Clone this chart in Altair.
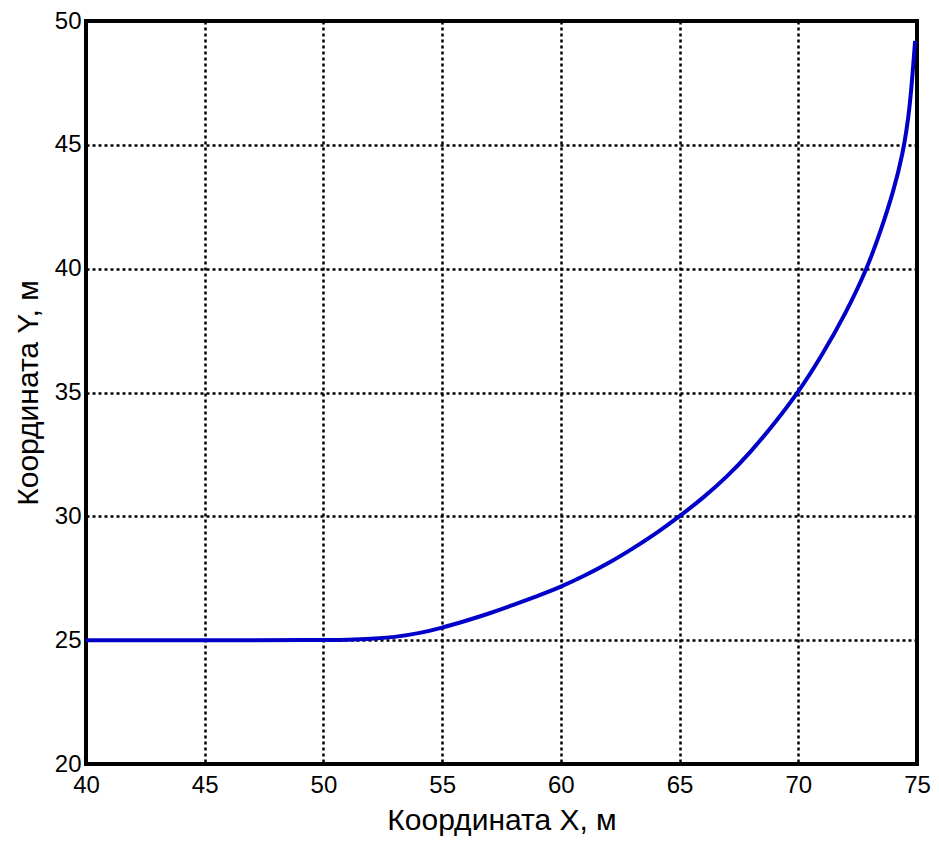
import altair as alt
import pandas as pd

x_vals = [40, 45, 50, 51, 52, 53, 54, 55, 56, 57, 58, 59, 60, 61, 62, 63, 64, 65,
          66, 67, 68, 69, 70, 71, 72, 72.9, 73.5, 74.0, 74.4, 74.7, 74.92]
y_vals = [25, 25, 25, 25.02, 25.05, 25.12, 25.27, 25.5, 25.78, 26.08, 26.42, 26.78, 27.15,
          27.6, 28.1, 28.68, 29.3, 30.0, 30.75, 31.6, 32.6, 33.75, 35.0, 36.5, 38.2,
          40.0, 41.6, 43.1, 44.6, 46.4, 49.2]
x_ticks = [40, 45, 50, 55, 60, 65, 70, 75]
y_ticks = [20, 25, 30, 35, 40, 45, 50]

df = pd.DataFrame({"x": x_vals, "y": y_vals})

FONT = "Liberation Sans"

chart = alt.Chart(df).mark_line(
    color="#0000c8", strokeWidth=4, interpolate="basis", clip=True
).encode(
    x=alt.X("x:Q", scale=alt.Scale(domain=[40, 75], nice=False),
            axis=alt.Axis(values=x_ticks, title="Координата X, м",
                          labelPadding=9, titlePadding=8, labelFlush=False)),
    y=alt.Y("y:Q", scale=alt.Scale(domain=[20, 50], nice=False),
            axis=alt.Axis(values=y_ticks, title="Координата Y, м",
                          labelPadding=5, titlePadding=11, labelFlush=False,
                          labelBaseline="middle")),
).properties(
    width=831, height=743,
    autosize=alt.AutoSizeParams(type="none"),
    padding={"left": 78, "top": 13, "right": 14, "bottom": 72},
).configure_view(
    stroke="black", strokeWidth=4
).configure_axis(
    domain=False, ticks=False,
    grid=True, gridColor="black", gridDash=[3, 3], gridWidth=2.5, gridOpacity=1,
    labelFont=FONT, labelFontSize=24, labelColor="black",
    titleFont=FONT, titleFontSize=30, titleFontWeight="normal", titleColor="black",
)

chart.save("out.html", embed_options={"renderer": "svg", "actions": False})
